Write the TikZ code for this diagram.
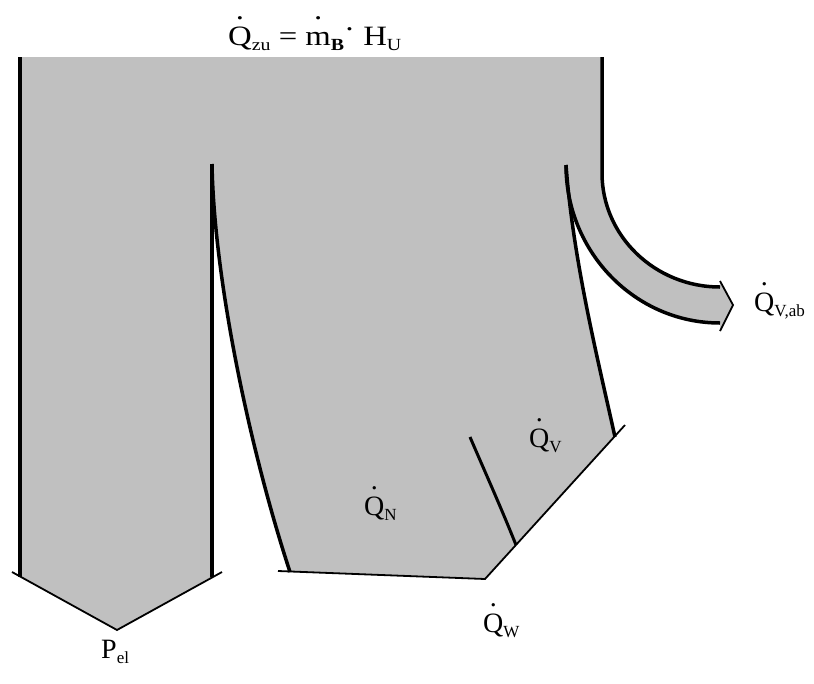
\documentclass[tikz,border=0pt]{standalone}
\usepackage{fontspec}
\setmainfont{Liberation Serif}
\newcommand\dt[1]{\leavevmode\ooalign{#1\cr\hidewidth\raisebox{0.9em}{.}\hidewidth\cr}}
\newcommand\sbs[1]{\raisebox{-0.2em}{\fontsize{17}{17}\selectfont #1}}
\begin{document}
\begin{tikzpicture}[x=1pt,y=-1pt,
  thickline/.style={line width=3.5pt,line cap=butt},
  thinline/.style={line width=1.8pt},
  lbl/.style={anchor=base west,inner sep=0pt,font=\fontsize{28}{28}\selectfont}]
\useasboundingbox (0,0) rectangle (814,683);
\definecolor{flowgray}{RGB}{192,192,192}
% fill
\fill[flowgray] (20,57) -- (602,57) -- (602,173)
  .. controls (602,236) and (655,287) .. (720,287)
  -- (720,282) -- (733,305) -- (720,330) -- (720,323)
  .. controls (635,323) and (566,252) .. (566,165)
  .. controls (573,260) and (598,360) .. (615,437)
  -- (485,579) -- (290,572)
  .. controls (250,450) and (214,280) .. (212,164)
  -- (212,576.5) -- (117,630) -- (20,576.5) -- cycle;
% thick lines
\draw[thickline] (20,57) -- (20,577);
\draw[thickline] (212,164) -- (212,577);
\draw[thickline] (602,57) -- (602,173)
  .. controls (602,236) and (655,287) .. (720,287);
\draw[thickline] (720,323) .. controls (635,323) and (566,252) .. (566,165);
\draw[thickline] (566,165) .. controls (573,260) and (598,360) .. (615,437);
\draw[thickline] (212,164) .. controls (214,280) and (250,450) .. (290,572);
\draw[line width=3pt] (470,437) .. controls (485,472) and (500,505) .. (516,545);
% thin lines
\draw[thinline] (12,572) -- (117,630) -- (222,572);
\draw[thinline] (278,571) -- (485,579) -- (625,425);
\draw[thinline] (720,281) -- (733,305) -- (720,331);
% labels
\node[lbl] (qzu) at (228,45) {\scalebox{1.17}[1]{\dt{Q}\sbs{zu} = \dt{m}\sbs{\textbf{B}}\raisebox{0.25em}{·} H\sbs{U}}};
\node[lbl] (qvab) at (754,311) {\dt{Q}\sbs{V,ab}};
\node[lbl] (qv) at (529,447) {\dt{Q}\sbs{V}};
\node[lbl] (qn) at (364,515) {\dt{Q}\sbs{N}};
\node[lbl] (qw) at (483,632) {\dt{Q}\sbs{W}};
\node[lbl] (pel) at (101,658) {P\sbs{el}};
\end{tikzpicture}
\end{document}
